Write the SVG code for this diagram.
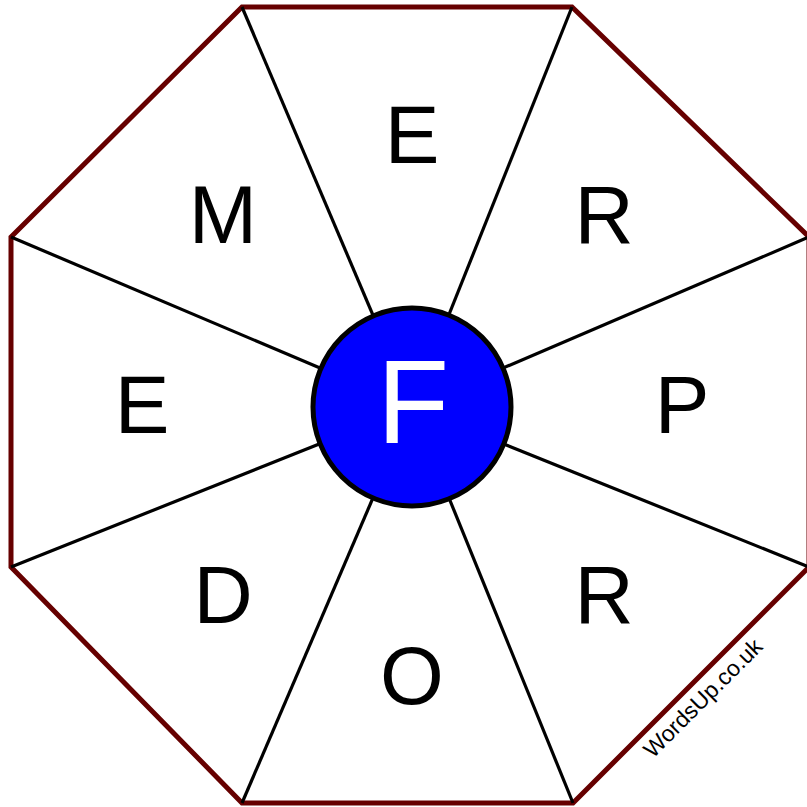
<svg xmlns="http://www.w3.org/2000/svg" width="807" height="807" viewBox="0 0 807 807">
<style>
.oct{fill:#fff;stroke:#660000;stroke-width:5;stroke-linejoin:miter}
.spoke{stroke:#000;stroke-width:3.2;fill:none}
.hub{fill:#0000ff;stroke:#000;stroke-width:5}
.lt{font-family:"Liberation Sans",Arial,sans-serif;font-size:82px;fill:#000;text-anchor:middle}
.ct{font-family:"Liberation Sans",Arial,sans-serif;font-size:118px;fill:#fff;text-anchor:middle}
.wm{font-family:"Liberation Sans",Arial,sans-serif;font-size:23px;fill:#000}
</style>
<rect width="807" height="807" fill="#fff"/>
<polygon id="octagon" class="oct" points="242,7 572,7 809,237 809,567 573,803 242,803 11,567 11,237"/>
<g id="connectors">
<line class="spoke" x1="242" y1="7" x2="412" y2="407"/>
<line class="spoke" x1="572" y1="7" x2="412" y2="407"/>
<line class="spoke" x1="809" y1="237" x2="412" y2="407"/>
<line class="spoke" x1="809" y1="567" x2="412" y2="407"/>
<line class="spoke" x1="573" y1="803" x2="412" y2="407"/>
<line class="spoke" x1="242" y1="803" x2="412" y2="407"/>
<line class="spoke" x1="11" y1="567" x2="412" y2="407"/>
<line class="spoke" x1="11" y1="237" x2="412" y2="407"/>
</g>
<g id="node-center">
<circle class="hub" cx="412" cy="407" r="99"/>
<text class="ct" x="413" y="443">F</text>
</g>
<g id="node-n"><text class="lt" x="412" y="163">E</text></g>
<g id="node-ne"><text class="lt" x="604" y="243">R</text></g>
<g id="node-e"><text class="lt" x="682" y="433">P</text></g>
<g id="node-se"><text class="lt" x="604" y="623">R</text></g>
<g id="node-s"><text class="lt" x="412" y="704">O</text></g>
<g id="node-sw"><text class="lt" x="223" y="623">D</text></g>
<g id="node-w"><text class="lt" x="142" y="433">E</text></g>
<g id="node-nw"><text class="lt" x="223" y="243">M</text></g>
<text class="wm" transform="translate(653,759) rotate(-45)">WordsUp.co.uk</text>
</svg>
